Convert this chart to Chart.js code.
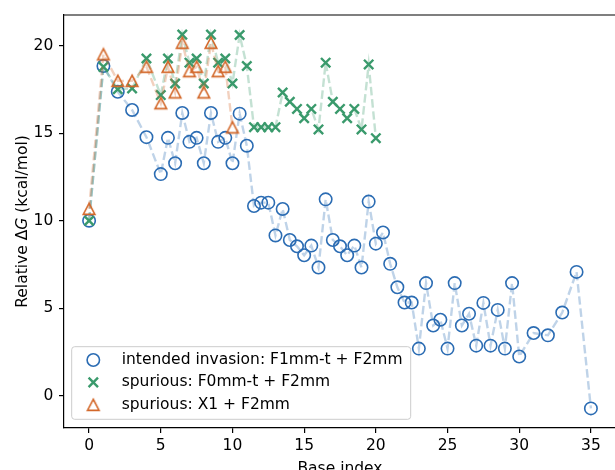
<!DOCTYPE html>
<html>
<head>
<meta charset="utf-8">
<script src="https://cdn.jsdelivr.net/npm/chart.js@4"></script>
<style>
  html, body { margin: 0; padding: 0; background: #fff; overflow: hidden; }
  #wrap { position: absolute; left: 0; top: 0; width: 625px; height: 480px; }
</style>
</head>
<body>
<div id="wrap"><canvas id="chart" width="625" height="480"></canvas></div>
<script>
// intended invasion: F1mm-t + F2mm
const intendedX = [0, 1, 2, 3, 4, 5, 5.5, 6, 6.5, 7, 7.5, 8, 8.5, 9, 9.5, 10, 10.5, 11,
  11.5, 12, 12.5, 13, 13.5, 14, 14.5, 15, 15.5, 16, 16.5, 17, 17.5, 18, 18.5, 19, 19.5, 20,
  20.5, 21, 21.5, 22, 22.5, 23, 23.5, 24, 24.5, 25, 25.5, 26, 26.5, 27, 27.5, 28, 28.5, 29,
  29.5, 30, 31, 32, 33, 34, 35];
const intendedY = [10.0, 18.83, 17.36, 16.32, 14.77, 12.66, 14.73, 13.28, 16.15, 14.5,
  14.73, 13.28, 16.15, 14.5, 14.73, 13.28, 16.11, 14.28, 10.84, 11.03, 11.03, 9.16,
  10.67, 8.9, 8.54, 8.03, 8.58, 7.33, 11.22, 8.9, 8.54, 8.03, 8.58, 7.33, 11.09, 8.69,
  9.33, 7.54, 6.2, 5.33, 5.33, 2.7, 6.44, 4.02, 4.35, 2.7, 6.44, 4.02, 4.69, 2.87,
  5.31, 2.87, 4.91, 2.7, 6.44, 2.25, 3.59, 3.46, 4.76, 7.08, -0.71];

// spurious: F0mm-t + F2mm
const spuriousF0X = [0, 1, 2, 3, 4, 5, 5.5, 6, 6.5, 7, 7.5, 8, 8.5, 9, 9.5, 10, 10.5, 11,
  11.5, 12, 12.5, 13, 13.5, 14, 14.5, 15, 15.5, 16, 16.5, 17, 17.5, 18, 18.5, 19, 19.5, 20];
const spuriousF0Y = [10.0, 18.78, 17.5, 17.55, 19.26, 17.17, 19.26, 17.83, 20.62, 19.02,
  19.26, 17.83, 20.62, 19.02, 19.26, 17.83, 20.6, 18.83, 15.34, 15.34, 15.34, 15.34,
  17.32, 16.79, 16.38, 15.85, 16.38, 15.21, 19.02, 16.79, 16.38, 15.85, 16.38, 15.21,
  18.92, 14.71];

// spurious: X1 + F2mm
const spuriousX1X = [0, 1, 2, 3, 4, 5, 5.5, 6, 6.5, 7, 7.5, 8, 8.5, 9, 9.5, 10];
const spuriousX1Y = [10.67, 19.49, 17.98, 17.98, 18.78, 16.7, 18.78, 17.32, 20.15, 18.53,
  18.78, 17.32, 20.15, 18.53, 18.78, 15.32];

const seriesNames = ["intended invasion: F1mm-t + F2mm", "spurious: F0mm-t + F2mm", "spurious: X1 + F2mm"];
const xTicks = [0, 5, 10, 15, 20, 25, 30, 35];
const yTicks = [0, 5, 10, 15, 20];

const BLUE = "#2b6cb3", GREEN = "#3a9a6c", ORANGE = "#d3682a";
const FONT = "'DejaVu Sans', sans-serif";
const FSIZE = 15.5;

function fade(hex, a) {
  const n = parseInt(hex.slice(1), 16);
  return `rgba(${n >> 16}, ${(n >> 8) & 255}, ${n & 255}, ${a})`;
}

// matplotlib-style "^" marker (width == height)
function triangleMarker(color) {
  const c = document.createElement("canvas");
  c.width = 16; c.height = 16;
  const g = c.getContext("2d");
  g.strokeStyle = color;
  g.lineWidth = 1.6;
  g.beginPath();
  g.moveTo(8, 2.3);
  g.lineTo(2.2, 13.4);
  g.lineTo(13.8, 13.4);
  g.closePath();
  g.stroke();
  return c;
}
const triImg = triangleMarker(ORANGE);

const pts = (xs, ys) => xs.map((x, i) => ({ x: x, y: ys[i] }));

const lineStyle = (color) => ({
  showLine: true,
  borderColor: fade(color, 0.3),
  borderWidth: 2.4,
  borderDash: [8.5, 3.7],
  pointBorderColor: color,
  pointBackgroundColor: "rgba(0,0,0,0)",
});

const frame = {
  id: "frame",
  afterDraw(chart) {
    const { ctx, chartArea: a } = chart;
    ctx.save();
    ctx.strokeStyle = "#000";
    ctx.lineWidth = 1.2;
    ctx.beginPath();
    ctx.moveTo(a.left, a.top);
    ctx.lineTo(a.right, a.top);
    ctx.lineTo(a.right, a.bottom);
    ctx.stroke();
    ctx.restore();
  }
};

// y axis title with an italic G, as in the mathtext label
const yTitle = {
  id: "yTitle",
  afterDraw(chart) {
    const { ctx, chartArea: a } = chart;
    const parts = [["Relative Δ", ""], ["G", "italic "], [" (kcal/mol)", ""]];
    ctx.save();
    let total = 0;
    parts.forEach(([t, st]) => { ctx.font = `${st}${FSIZE}px ${FONT}`; total += ctx.measureText(t).width; });
    ctx.translate(23, (a.top + a.bottom) / 2);
    ctx.rotate(-Math.PI / 2);
    ctx.fillStyle = "#000";
    ctx.textBaseline = "middle";
    ctx.textAlign = "left";
    let x = -total / 2;
    parts.forEach(([t, st]) => {
      ctx.font = `${st}${FSIZE}px ${FONT}`;
      ctx.fillText(t, x, 0);
      x += ctx.measureText(t).width;
    });
    ctx.restore();
  }
};

const legendBox = {
  id: "legendBox",
  afterDraw(chart) {
    const ctx = chart.ctx;
    const x0 = 71.7, y0 = 346.7, w = 339, h = 72.6, r = 3;
    ctx.save();
    ctx.beginPath();
    ctx.moveTo(x0 + r, y0);
    ctx.arcTo(x0 + w, y0, x0 + w, y0 + h, r);
    ctx.arcTo(x0 + w, y0 + h, x0, y0 + h, r);
    ctx.arcTo(x0, y0 + h, x0, y0, r);
    ctx.arcTo(x0, y0, x0 + w, y0, r);
    ctx.closePath();
    ctx.fillStyle = "rgba(255,255,255,0.8)";
    ctx.fill();
    ctx.strokeStyle = "#cccccc";
    ctx.lineWidth = 1;
    ctx.stroke();

    const mx = 93.3, tx = 121.7, rows = [360, 382.4, 405];
    ctx.strokeStyle = BLUE; ctx.lineWidth = 1.6;
    ctx.beginPath(); ctx.arc(mx, rows[0], 6.2, 0, Math.PI * 2); ctx.stroke();
    ctx.strokeStyle = GREEN; ctx.lineWidth = 2.4;
    const d = 4.7;
    ctx.beginPath();
    ctx.moveTo(mx - d, rows[1] - d); ctx.lineTo(mx + d, rows[1] + d);
    ctx.moveTo(mx - d, rows[1] + d); ctx.lineTo(mx + d, rows[1] - d);
    ctx.stroke();
    ctx.drawImage(triImg, mx - 8, rows[2] - 8);

    ctx.fillStyle = "#000";
    ctx.font = `${FSIZE}px ${FONT}`;
    ctx.textBaseline = "middle";
    ctx.textAlign = "left";
    seriesNames.forEach((s, i) => ctx.fillText(s, tx, rows[i]));
    ctx.restore();
  }
};

Chart.defaults.font.family = FONT;
Chart.defaults.font.size = FSIZE;
Chart.defaults.color = "#000";

new Chart(document.getElementById("chart"), {
  type: "scatter",
  data: {
    datasets: [
      Object.assign({
        label: seriesNames[0], data: pts(intendedX, intendedY), order: 3,
        pointStyle: "circle", pointRadius: 6.2, pointBorderWidth: 1.6,
      }, lineStyle(BLUE)),
      Object.assign({
        label: seriesNames[1], data: pts(spuriousF0X, spuriousF0Y), order: 2,
        pointStyle: "crossRot", pointRadius: 6.6, pointBorderWidth: 2.4,
      }, lineStyle(GREEN)),
      Object.assign({
        label: seriesNames[2], data: pts(spuriousX1X, spuriousX1Y), order: 1,
        pointStyle: triImg, pointRadius: 6, pointBorderWidth: 1.6,
      }, lineStyle(ORANGE)),
    ]
  },
  options: {
    responsive: false,
    animation: false,
    devicePixelRatio: 1,
    layout: { padding: { top: 12, right: 3.5, bottom: 0, left: 0 } },
    plugins: { legend: { display: false }, tooltip: { enabled: false } },
    scales: {
      x: {
        type: "linear", min: -1.75, max: 36.75,
        afterBuildTicks: (s) => { s.ticks = xTicks.map(v => ({ value: v })); },
        afterFit: (s) => { s.height = 52; },
        grid: { drawOnChartArea: false, tickLength: 5, color: "#000", lineWidth: 1.2 },
        border: { display: true, color: "#000", width: 1.2 },
        ticks: { padding: 3.7, color: "#000", maxRotation: 0 },
        title: { display: true, text: "Base index", color: "#000", padding: { top: 0, bottom: 2 } },
      },
      y: {
        type: "linear", min: -1.83, max: 21.74,
        afterBuildTicks: (s) => { s.ticks = yTicks.map(v => ({ value: v })); },
        afterFit: (s) => { s.width = 64; },
        grid: { drawOnChartArea: false, tickLength: 5, color: "#000", lineWidth: 1.2 },
        border: { display: true, color: "#000", width: 1.2 },
        ticks: { padding: 5.7, color: "#000" },
        title: { display: false },
      }
    }
  },
  plugins: [frame, yTitle, legendBox]
});
</script>
</body>
</html>
